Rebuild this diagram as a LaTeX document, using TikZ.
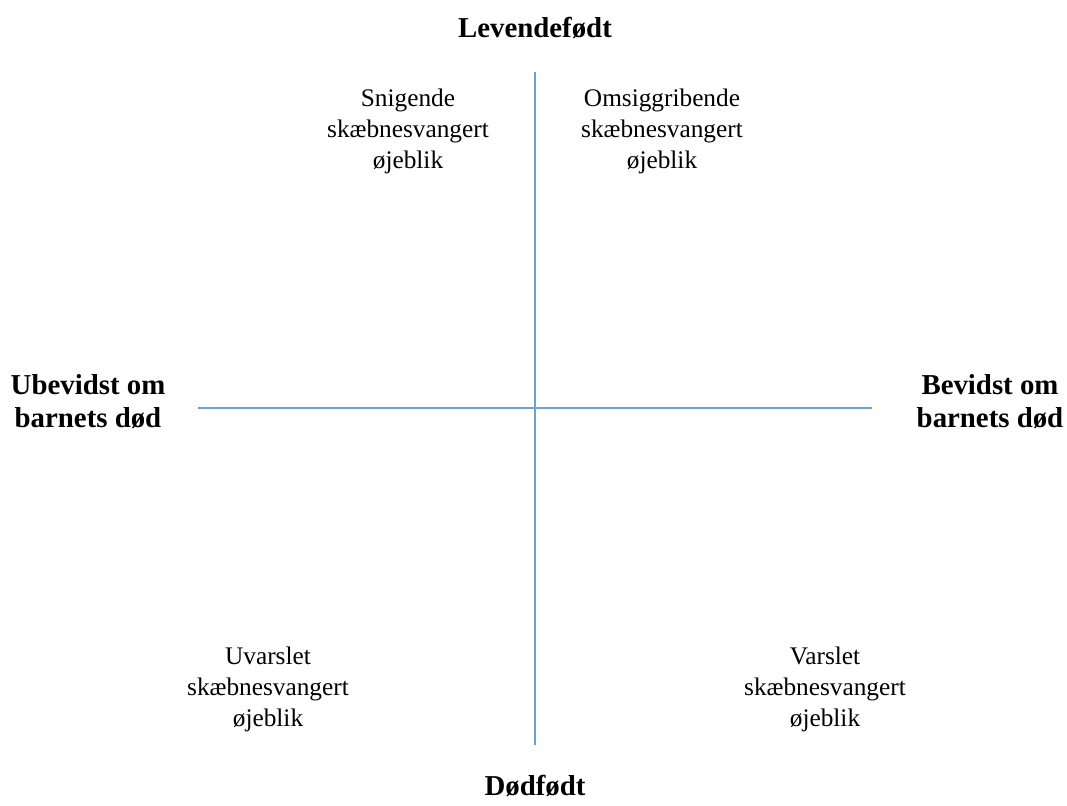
\documentclass[tikz,border=0pt]{standalone}
\usepackage{fontspec}
\setmainfont{Liberation Serif}
\definecolor{axisblue}{RGB}{110,160,210}
\begin{document}
\begin{tikzpicture}[x=0.025cm,y=-0.025cm,
	lbl/.style={align=center,font=\fontsize{18}{22}\selectfont,inner sep=0pt},
	axislbl/.style={lbl,font=\fontsize{20.5}{23.5}\selectfont\bfseries},
	axisline/.style={color=axisblue,line width=2pt}]
		\useasboundingbox (0,0) rectangle (1067,805);
		%axes
			\coordinate (top)    at (535,72);
			\coordinate (bottom) at (535,745);
			\coordinate (left)   at (198,408);
			\coordinate (right)  at (872,408);
			\draw[axisline] (top) -- (bottom);
			\draw[axisline] (left) -- (right);
		% axis labels
			\node[axislbl] (levende)  at (535,28)  {Levendefødt};
			\node[axislbl] (dodfodt)  at (535,786) {Dødfødt};
			\node[axislbl] (ubevidst) at (88,402)  {Ubevidst om\\barnets død};
			\node[axislbl] (bevidst)  at (990,402) {Bevidst om\\barnets død};
		% quadrants
			\node[lbl] (snigende) at (408,131) {Snigende\\skæbnesvangert\\øjeblik};
			\node[lbl] (omsig)    at (662,131) {Omsiggribende\\skæbnesvangert\\øjeblik};
			\node[lbl] (uvarslet) at (268,689) {Uvarslet\\skæbnesvangert\\øjeblik};
			\node[lbl] (varslet)  at (825,689) {Varslet\\skæbnesvangert\\øjeblik};
	\end{tikzpicture}
\end{document}
